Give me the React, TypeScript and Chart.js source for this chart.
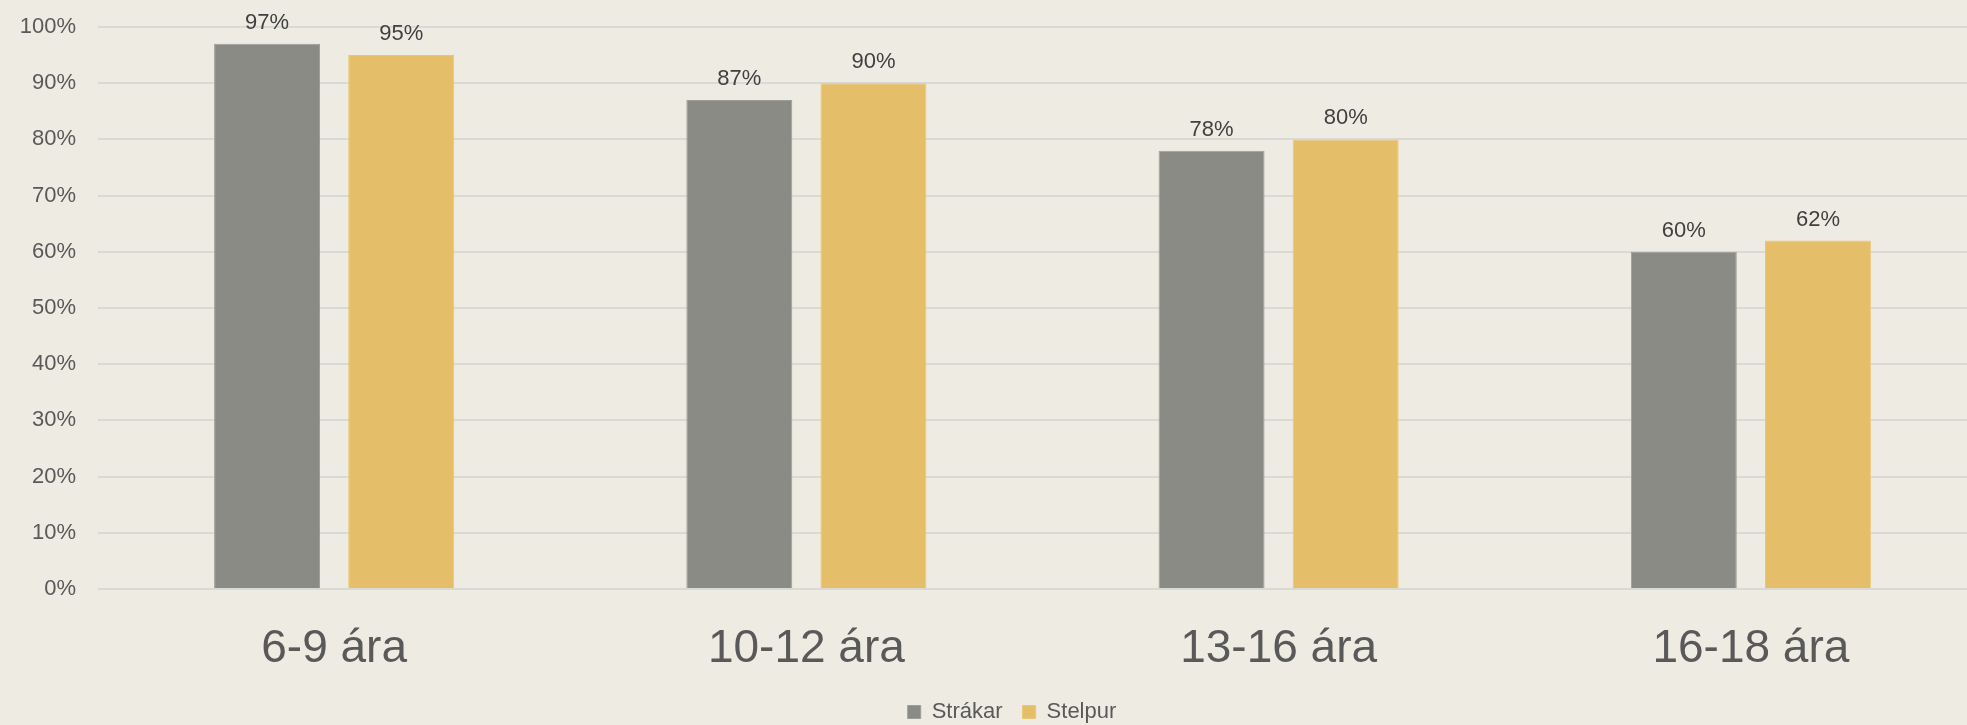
import React, { useEffect, useRef } from "react";
import { Chart, registerables } from "chart.js";

Chart.register(...registerables);

const categories = ["6-9 ára", "10-12 ára", "13-16 ára", "16-18 ára"];
const seriesNames = ["Strákar", "Stelpur"];
const strakar = [97, 87, 78, 60];
const stelpur = [95, 90, 80, 62];
const yTicks = [0, 10, 20, 30, 40, 50, 60, 70, 80, 90, 100];

const BG = "#eeebe3";
const FONT = "'Liberation Sans', Arial, sans-serif";

const dataLabels = {
  id: "dataLabels",
  afterLayout(chart: any) {
    if (chart.legend) {
      chart.legend.left += 9.5;
      chart.legend.right += 9.5;
    }
  },
  afterDatasetsDraw(chart: any) {
    const ctx = chart.ctx;
    ctx.save();
    ctx.font = `22px ${FONT}`;
    ctx.fillStyle = "#404040";
    ctx.textAlign = "center";
    ctx.textBaseline = "alphabetic";
    chart.data.datasets.forEach((ds: any, i: number) => {
      const meta = chart.getDatasetMeta(i);
      meta.data.forEach((el: any, j: number) => {
        ctx.fillText(`${ds.data[j]}%`, el.x, el.y - 15);
      });
    });
    ctx.restore();
  },
};

export default function App() {
  const ref = useRef<HTMLCanvasElement | null>(null);
  useEffect(() => {
    document.body.style.margin = "0";
    document.body.style.background = BG;
    const chart = new Chart(ref.current as HTMLCanvasElement, {
      type: "bar",
      data: {
        labels: categories,
        datasets: [
          {
            label: seriesNames[0],
            data: strakar,
            backgroundColor: "#8b8b85",
            borderColor: "#9d9d97",
            borderWidth: 1,
            categoryPercentage: 0.568,
            barPercentage: 0.79,
          },
          {
            label: seriesNames[1],
            data: stelpur,
            backgroundColor: "#e4be69",
            borderColor: "#e8c675",
            borderWidth: 1,
            categoryPercentage: 0.568,
            barPercentage: 0.79,
          },
        ],
      },
      options: {
        responsive: false,
        animation: false,
        layout: { padding: { top: 27, left: 18, right: 13, bottom: 0 } },
        plugins: {
          tooltip: { enabled: false },
          legend: {
            position: "bottom",
            labels: {
              font: { family: FONT, size: 22 },
              color: "#595959",
              boxWidth: 13,
              boxHeight: 13,
              padding: 20,
            },
          },
        },
        scales: {
          x: {
            grid: { display: false },
            border: { display: false },
            ticks: {
              font: { family: FONT, size: 46 },
              color: "#595959",
              maxRotation: 0,
              autoSkip: false,
              padding: 25,
            },
            afterFit(scale: any) {
              scale.height = 92;
            },
          },
          y: {
            min: 0,
            max: 100,
            afterBuildTicks(scale: any) {
              scale.ticks = yTicks.map((v) => ({ value: v }));
            },
            grid: { color: "#dadad5", lineWidth: 2, drawTicks: false },
            border: { display: false },
            ticks: {
              font: { family: FONT, size: 22 },
              color: "#595959",
              padding: 22,
              callback: (v: any) => `${v}%`,
            },
            afterFit(scale: any) {
              scale.width = 80;
              scale.paddingTop = 0;
              scale.paddingBottom = 0;
            },
          },
        },
      },
      plugins: [dataLabels],
    });
    return () => chart.destroy();
  }, []);
  return (
    <div
      style={{
        position: "fixed",
        left: 0,
        top: 0,
        width: 1967,
        height: 725,
        overflow: "hidden",
        background: BG,
      }}
    >
      <canvas ref={ref} width={2000} height={733} style={{ width: 2000, height: 733, display: "block" }} />
    </div>
  );
}
